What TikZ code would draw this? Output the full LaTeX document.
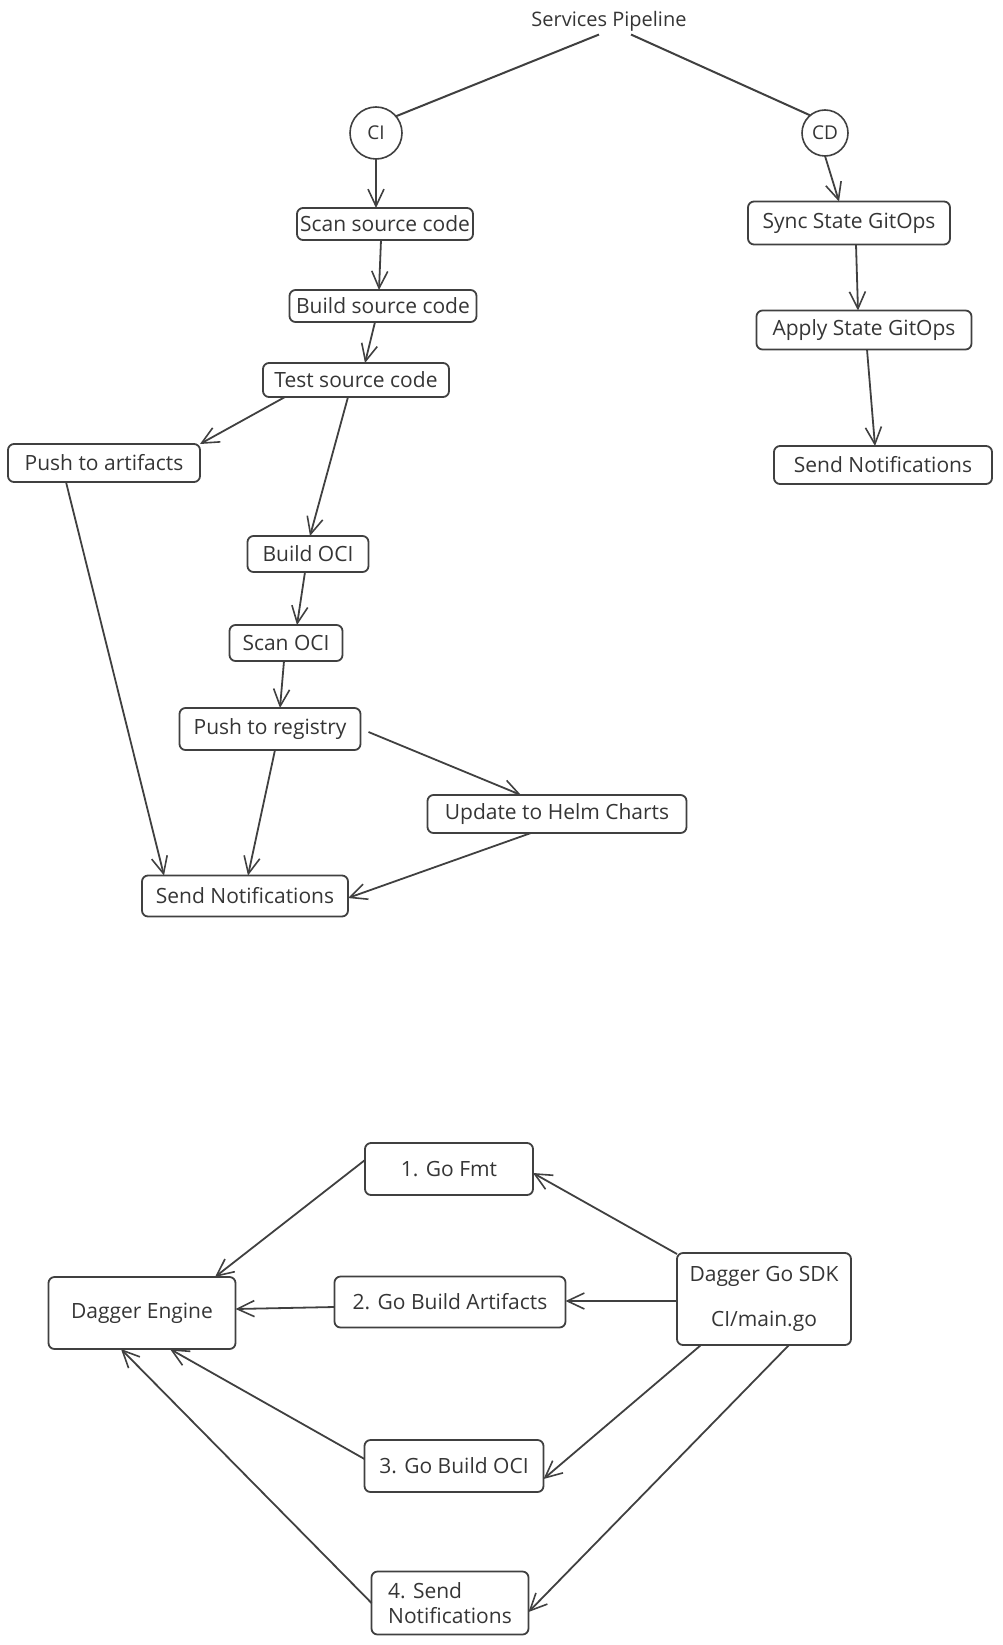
\documentclass[tikz,border=0pt]{standalone}
\usepackage{fontspec}
\setmainfont{Open Sans}
\usetikzlibrary{arrows.meta}

\definecolor{linecol}{HTML}{404040}
\definecolor{txtcol}{HTML}{353535}

\tikzset{
  box/.style={draw=linecol, line width=1.8pt, rounded corners=6pt, text=txtcol, inner sep=0pt, outer sep=0pt, font=\fontsize{21}{25}\selectfont},
  ring/.style={draw=linecol, line width=1.6pt, circle, text=txtcol, inner sep=0pt, outer sep=0pt, font=\fontsize{19}{22}\selectfont},
  flow/.style={draw=linecol, line width=1.8pt, -{Straight Barb[length=17pt,width=16pt,line width=1.6pt]}},
  link/.style={draw=linecol, line width=2pt},
}

\begin{document}
\begin{tikzpicture}[x=1pt, y=-1pt]
        \useasboundingbox (0,0) rectangle (1003,1645);

        % pipeline tree
        \node [text=txtcol, font=\fontsize{20}{24}\selectfont] (title) at (609,21) {Services Pipeline};
        \node [ring, minimum size=52pt] (ci) at (376,133) {CI};
        \node [ring, minimum size=46pt] (cd) at (825,133) {CD};

        \node [box, minimum width=176pt, minimum height=32pt] (scan-src) at (385,224) {Scan source code};
        \node [box, minimum width=187pt, minimum height=32pt] (build-src) at (383,306) {Build source code};
        \node [box, minimum width=186pt, minimum height=34pt] (test-src) at (356,380) {Test source code};
        \node [box, minimum width=192pt, minimum height=38pt] (push-art) at (104,463) {Push to artifacts};
        \node [box, minimum width=121pt, minimum height=36pt] (build-oci) at (308,554) {Build OCI};
        \node [box, minimum width=113pt, minimum height=36pt] (scan-oci) at (286,643) {Scan OCI};
        \node [box, minimum width=181pt, minimum height=42pt] (push-reg) at (270,729) {Push to registry};
        \node [box, minimum width=259pt, minimum height=38pt] (helm) at (557,814) {Update to Helm Charts};
        \node [box, minimum width=206pt, minimum height=41pt] (ci-notify) at (245,896) {Send Notifications};

        \node [box, minimum width=202pt, minimum height=43pt] (sync) at (849,223) {Sync State GitOps};
        \node [box, minimum width=215pt, minimum height=39pt] (apply) at (864,330) {Apply State GitOps};
        \node [box, minimum width=218pt, minimum height=38pt] (cd-notify) at (883,465) {Send Notifications};

        \draw [link] ([xshift=-10pt]title.south) -- (ci.40);
        \draw [link] ([xshift=22pt]title.south) -- (cd.130);

        \draw [flow] (ci.south) -- ([xshift=-9pt]scan-src.north);
        \draw [flow] (cd.south) -- ([xshift=-10pt]sync.north);
        \draw [flow] ([xshift=-4pt]scan-src.south) -- ([xshift=-4pt]build-src.north);
        \draw [flow] ([xshift=-8pt]build-src.south) -- ([xshift=9pt]test-src.north);
        \draw [flow] ([xshift=-71pt]test-src.south) -- (push-art.north east);
        \draw [flow] ([xshift=-8pt]test-src.south) -- ([xshift=2pt]build-oci.north);
        \draw [flow] ([xshift=-38pt]push-art.south) -- ([xshift=-81pt]ci-notify.north);
        \draw [flow] ([xshift=-3pt]build-oci.south) -- ([xshift=11pt]scan-oci.north);
        \draw [flow] ([xshift=-2pt]scan-oci.south) -- ([xshift=10pt]push-reg.north);
        \draw [flow] ([xshift=5pt]push-reg.south) -- ([xshift=3pt]ci-notify.north);
        \draw [flow] ([xshift=8pt,yshift=-3pt]push-reg.east) -- ([xshift=-36pt]helm.north);
        \draw [flow] ([xshift=-26pt]helm.south) -- ([yshift=-2pt]ci-notify.east);
        \draw [flow] ([xshift=7pt]sync.south) -- ([xshift=-6pt]apply.north);
        \draw [flow] ([xshift=3pt]apply.south) -- ([xshift=-8pt]cd-notify.north);

        % dagger flow
        \node [box, minimum width=168pt, minimum height=52pt] (fmt) at (449,1169) {1. Go Fmt};
        \node [box, minimum width=187pt, minimum height=72pt] (engine) at (142,1313) {Dagger Engine};
        \node [box, minimum width=231pt, minimum height=51pt] (gobuild) at (450,1302) {2. Go Build Artifacts};
        \node [box, minimum width=174pt, minimum height=92pt, align=center] (sdk) at (764,1299) {Dagger Go SDK\\[20pt]CI/main.go};
        \node [box, minimum width=179pt, minimum height=52pt] (gooci) at (454,1466) {3. Go Build OCI};
        \node [box, minimum width=157pt, minimum height=63pt, align=left] (gonotify) at (450,1603) {4. Send\\Notifications};

        \draw [flow] ([yshift=-17pt]fmt.north west) -- ([xshift=73pt]engine.north);
        \draw [flow] ([yshift=-1pt]sdk.north west) -- ([yshift=-4pt]fmt.east);
        \draw [flow] ([yshift=-2pt]sdk.west) -- ([yshift=1pt]gobuild.east);
        \draw [flow] ([yshift=-5pt]gobuild.west) -- ([yshift=4pt]engine.east);
        \draw [flow] ([xshift=-63pt]sdk.south) -- ([yshift=-13pt]gooci.east);
        \draw [flow] ([xshift=25pt]sdk.south) -- ([yshift=-9pt]gonotify.east);
        \draw [flow] ([yshift=7pt]gooci.west) -- ([xshift=28pt]engine.south);
        \draw [flow] (gonotify.west) -- ([xshift=-21pt]engine.south);
\end{tikzpicture}
\end{document}
